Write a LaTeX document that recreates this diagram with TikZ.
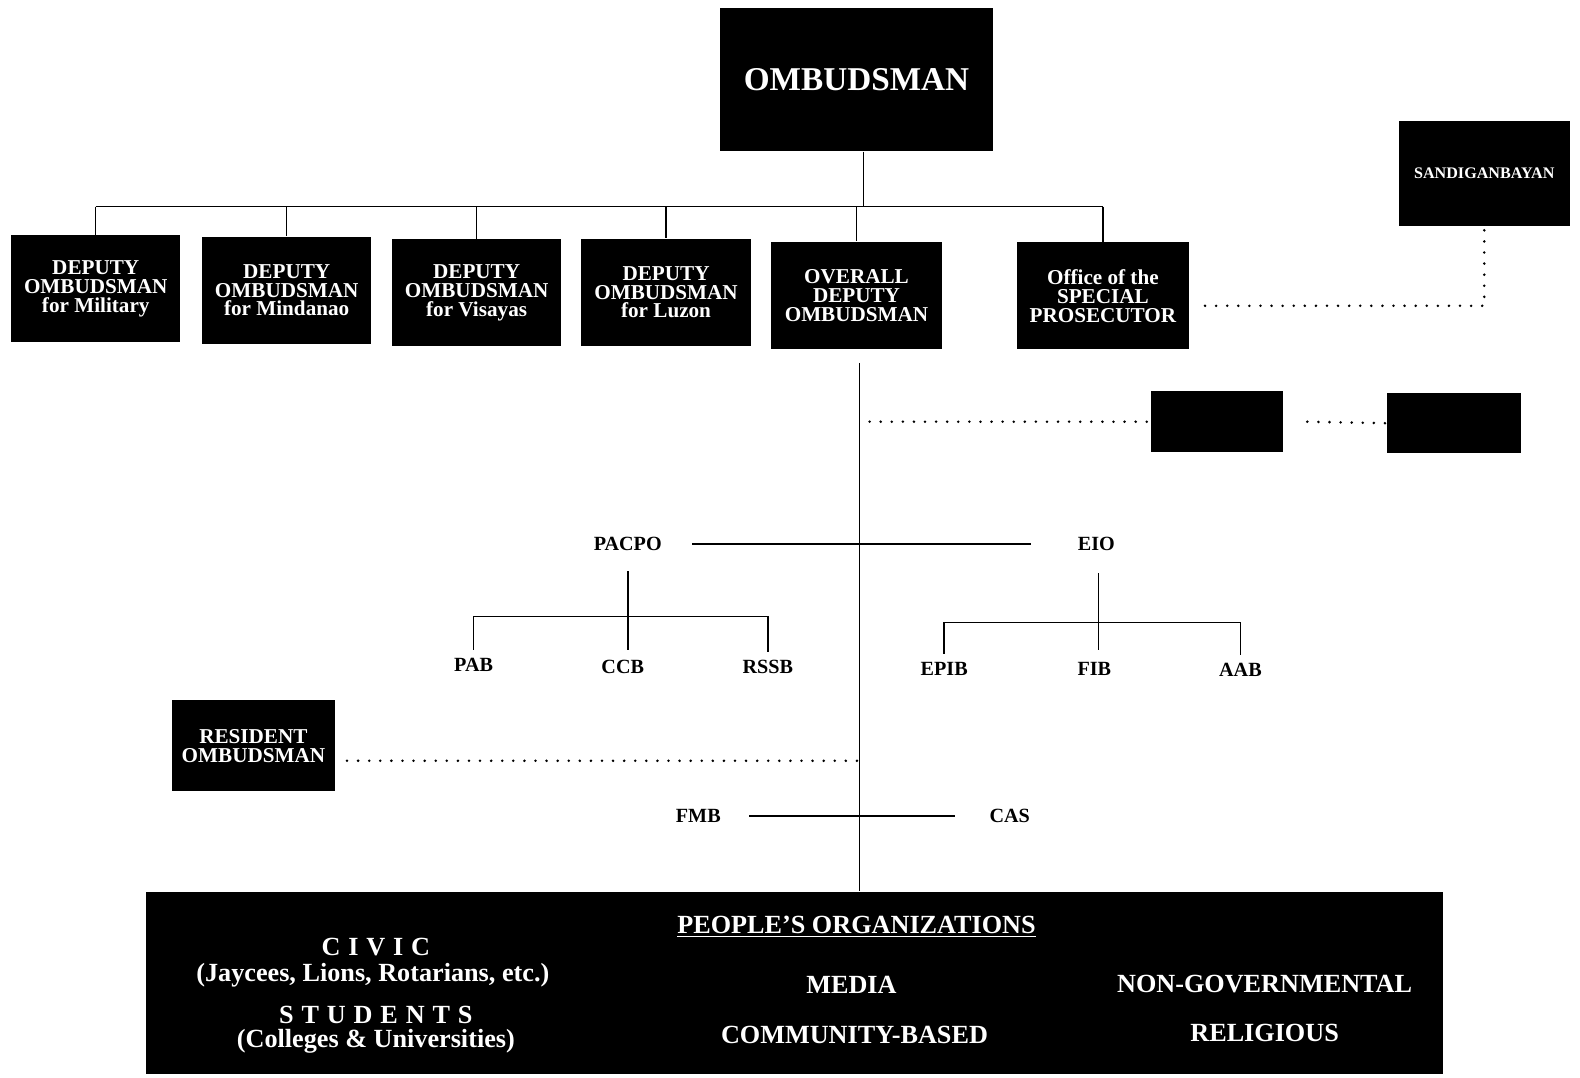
\documentclass[tikz,border=0pt]{standalone}
\usepackage{fontspec}
\setmainfont{Liberation Serif}
\newfontfamily\spacedfont[LetterSpace=30]{Liberation Serif}
\usetikzlibrary{positioning}
\tikzset{
  wire/.style={line width=0.75pt},
  dots/.style={line width=1.4pt, line cap=round, dash pattern=on 0pt off 5.5pt},
  blk/.style={fill=black, text=white, align=center, inner sep=1pt, font=\bfseries\fontsize{10.5}{9.4}\selectfont},
  depbox/.style={blk, minimum width=84pt, minimum height=53pt},
  lbl/.style={inner sep=2pt, font=\bfseries\fontsize{10}{12}\selectfont},
  orgtxt/.style={text=white, align=center, inner sep=1pt, font=\bfseries\fontsize{13}{15}\selectfont}
}

\begin{document}
\begin{tikzpicture}[x=0.5pt,y=-0.5pt]
  \useasboundingbox (0,0) rectangle (1568,1069);

  % top of the chart
  \node[blk, minimum width=135pt, minimum height=71pt, font=\bfseries\fontsize{16.5}{20}\selectfont] (omb) at (850,79) {OMBUDSMAN};
  \node[depbox] (mil) at (95,286.5) {DEPUTY\\OMBUDSMAN\\for Military};
  \node[depbox] (min) at (284.5,288) {DEPUTY\\OMBUDSMAN\\for Mindanao};
  \node[depbox] (vis) at (473,290.5) {DEPUTY\\OMBUDSMAN\\for Visayas};
  \node[depbox] (luz) at (661,290) {DEPUTY\\OMBUDSMAN\\for Luzon};
  \node[depbox, minimum width=85pt] (ovr) at (850,293) {OVERALL\\DEPUTY\\OMBUDSMAN};
  \node[depbox, minimum width=85pt] (spo) at (1094.5,293.5) {Office of the\\SPECIAL\\PROSECUTOR};
  \node[blk, minimum width=85pt, minimum height=52pt, font=\bfseries\fontsize{8}{9}\selectfont] (sdb) at (1473,172) {SANDIGANBAYAN};

  \coordinate (bus) at (857,205);
  \draw[wire] (omb.south -| bus) -- (bus);
  \draw[wire] (mil.north |- bus) -- (spo.north |- bus);
  \foreach \b in {mil,min,vis,luz,ovr,spo}{
    \draw[wire] (\b.north |- bus) -- (\b.north);
  }
  \draw[dots] ([xshift=8pt,yshift=-5pt]spo.east) -| (sdb.south);

  % spine under the overall deputy
  \coordinate (spt) at (853,360);
  \node[fill=black, minimum width=643.5pt, minimum height=90.5pt, inner sep=0pt] (orgs) at (788.5,975.5) {};
  \draw[wire] (spt) -- (spt |- orgs.north);

  \node[blk, minimum width=65.5pt, minimum height=30.5pt] (unk1) at (1207.5,418.5) {};
  \node[blk, minimum width=66.5pt, minimum height=30pt] (unk2) at (1442.5,420) {};
  \draw[dots] ([xshift=5pt]spt |- unk1.west) -- (unk1.west);
  \draw[dots] ([xshift=12pt]unk1.east) -- (unk2.west);

  % PACPO and EIO
  \node[lbl] (pacpo) at (623,540) {PACPO};
  \node[lbl] (eio) at (1088,540) {EIO};
  \draw[wire] ([xshift=13pt]pacpo.east) -- ([xshift=-21pt]eio.west);

  \node[lbl] (pab) at (470,660) {PAB};
  \node[lbl] (ccb) at (618,662) {CCB};
  \node[lbl] (rssb) at (762,662) {RSSB};
  \coordinate (pbar) at (623,612);
  \draw[wire] ([yshift=-8pt]pacpo.south) -- (pacpo.south |- pbar) -- ++(0,33);
  \draw[wire] ([yshift=2pt]pab.north) |- (pbar) -| ([yshift=2pt]rssb.north);

  \node[lbl] (epib) at (937,664) {EPIB};
  \node[lbl] (fib) at (1086,664) {FIB};
  \node[lbl] (aab) at (1231,665) {AAB};
  \coordinate (ebar) at (1090,618);
  \draw[wire] ([yshift=-9pt]eio.south -| ebar) -- (ebar) -- ++(0,27);
  \draw[wire] ([yshift=2pt]epib.north) |- (ebar) -| ([yshift=2pt]aab.north);

  % resident ombudsman
  \node[blk, minimum width=80.5pt, minimum height=45pt] (res) at (251.5,740) {RESIDENT\\OMBUDSMAN};
  \coordinate (resdot) at ([yshift=-7.5pt]res.east);
  \draw[dots] ([xshift=6pt]resdot) -- (resdot -| spt);

  \node[lbl] (fmb) at (693,810) {FMB};
  \node[lbl] (cas) at (1002,810) {CAS};
  \draw[wire] ([xshift=12pt]fmb.east) -- ([xshift=-15pt]cas.west);

  % people's organizations
  \node[orgtxt] (po) at (850,920) {\underline{PEOPLE'S ORGANIZATIONS}};
  \node[orgtxt] (civic) at (373,940) {{\spacedfont CIVIC}};
  \node[orgtxt] (civex) at (370,968) {(Jaycees, Lions, Rotarians, etc.)};
  \node[orgtxt] (stud) at (373,1007) {{\spacedfont STUDENTS}};
  \node[orgtxt] (studex) at (373,1033) {(Colleges \& Universities)};
  \node[orgtxt] (media) at (845,977) {MEDIA};
  \node[orgtxt] (comm) at (848,1027) {COMMUNITY-BASED};
  \node[orgtxt] (ngo) at (1255,977) {NON-GOVERNMENTAL};
  \node[orgtxt] (relig) at (1255,1025) {RELIGIOUS};
\end{tikzpicture}
\end{document}
